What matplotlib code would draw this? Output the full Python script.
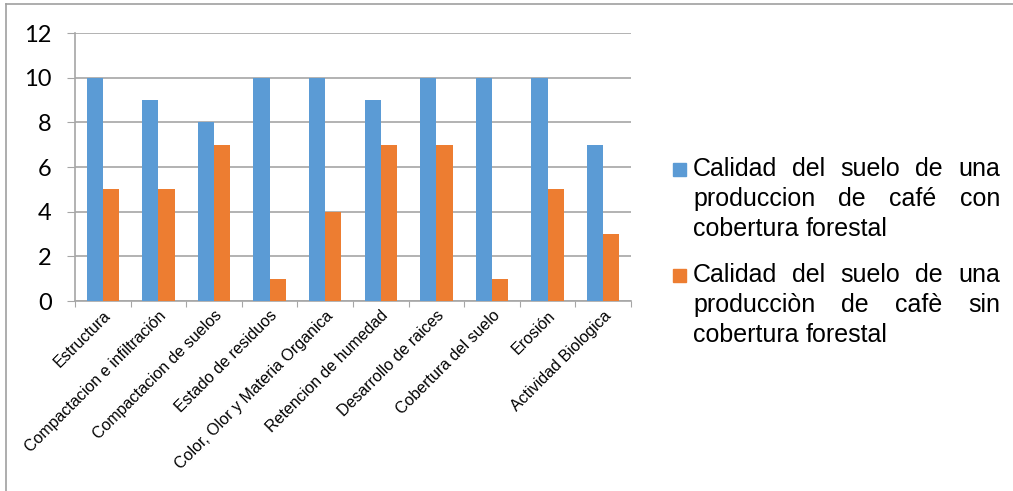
import numpy as np
import matplotlib.pyplot as plt
from matplotlib.lines import Line2D
from matplotlib.patches import Rectangle

categories = ["Estructura", "Compactacion e infiltración", "Compactacion de suelos",
              "Estado de residuos", "Color, Olor y Materia Organica", "Retencion de humedad",
              "Desarrollo de raices", "Cobertura del suelo", "Erosión", "Actividad Biologica"]
con_cobertura = [10, 9, 8, 10, 10, 9, 10, 10, 10, 7]
sin_cobertura = [5, 5, 7, 1, 4, 7, 7, 1, 5, 3]

legend_lines = [
    ["Calidad del suelo de una", "produccion de café con", "cobertura forestal"],
    ["Calidad del suelo de una", "producciòn de cafè sin", "cobertura forestal"],
]

blue = "#5b9bd5"
orange = "#ed7d31"
grid_color = "#a6a6a6"

W, H = 1013, 491
fig = plt.figure(figsize=(W / 100, H / 100), dpi=100)
ax = fig.add_axes([75 / W, 1 - 301 / H, (631 - 75) / W, (301 - 33) / H])

x = np.arange(len(categories))
bw = 0.29
ax.bar(x - bw / 2, con_cobertura, bw, color=blue, zorder=3)
ax.bar(x + bw / 2, sin_cobertura, bw, color=orange, zorder=3)

ax.set_xlim(-0.5, len(categories) - 0.5)
ax.set_ylim(0, 12)
ax.set_yticks(range(0, 13, 2))
ax.yaxis.grid(True, color=grid_color, linewidth=1.2, zorder=0)
ax.tick_params(axis="y", length=5.8, color=grid_color, labelsize=17, pad=11)
for lab in ax.get_yticklabels():
    lab.set_fontfamily("Lato")

ax.set_xticks(np.arange(-0.5, len(categories), 1))
ax.tick_params(axis="x", length=4, color=grid_color, labelbottom=False)
ax.set_xticks(x, minor=True)
ax.set_xticklabels(categories, minor=True, rotation=45, ha="right", rotation_mode="anchor",
                   fontsize=11.5, fontfamily="Liberation Sans")
ax.tick_params(axis="x", which="minor", length=0, pad=5)

for s in ["top", "right"]:
    ax.spines[s].set_visible(False)
for s in ["left", "bottom"]:
    ax.spines[s].set_color(grid_color)
    ax.spines[s].set_linewidth(1.2)

# outer frame
fig.add_artist(Line2D([6 / W, 1], [1 - 4 / H, 1 - 4 / H], color="#a0a0a0", lw=1.2))
fig.add_artist(Line2D([6 / W, 6 / W], [0, 1 - 4 / H], color="#a0a0a0", lw=1.2))

# legend with justified text
renderer = fig.canvas.get_renderer()
left_px, right_px = 693, 1000
line_y = [[169, 199, 229], [275, 305, 335]]
colors = [blue, orange]
for g, lines in enumerate(legend_lines):
    fig.add_artist(Rectangle((673 / W, 1 - (line_y[g][0] + 7) / H), 13 / W, 13 / H,
                             transform=fig.transFigure, color=colors[g]))
    for i, line in enumerate(lines):
        yf = 1 - line_y[g][i] / H
        words = line.split(" ")
        last = i == len(lines) - 1
        texts = [fig.text(0, yf, w, fontsize=18, fontfamily="Liberation Sans", va="center")
                 for w in words]
        widths = [t.get_window_extent(renderer).width for t in texts]
        if last or len(words) == 1:
            sp = 7
        else:
            sp = (right_px - left_px - sum(widths)) / (len(words) - 1)
        xp = left_px
        for t, w in zip(texts, widths):
            t.set_x(xp / W)
            xp += w + sp

fig.savefig("out.png", dpi=100)
